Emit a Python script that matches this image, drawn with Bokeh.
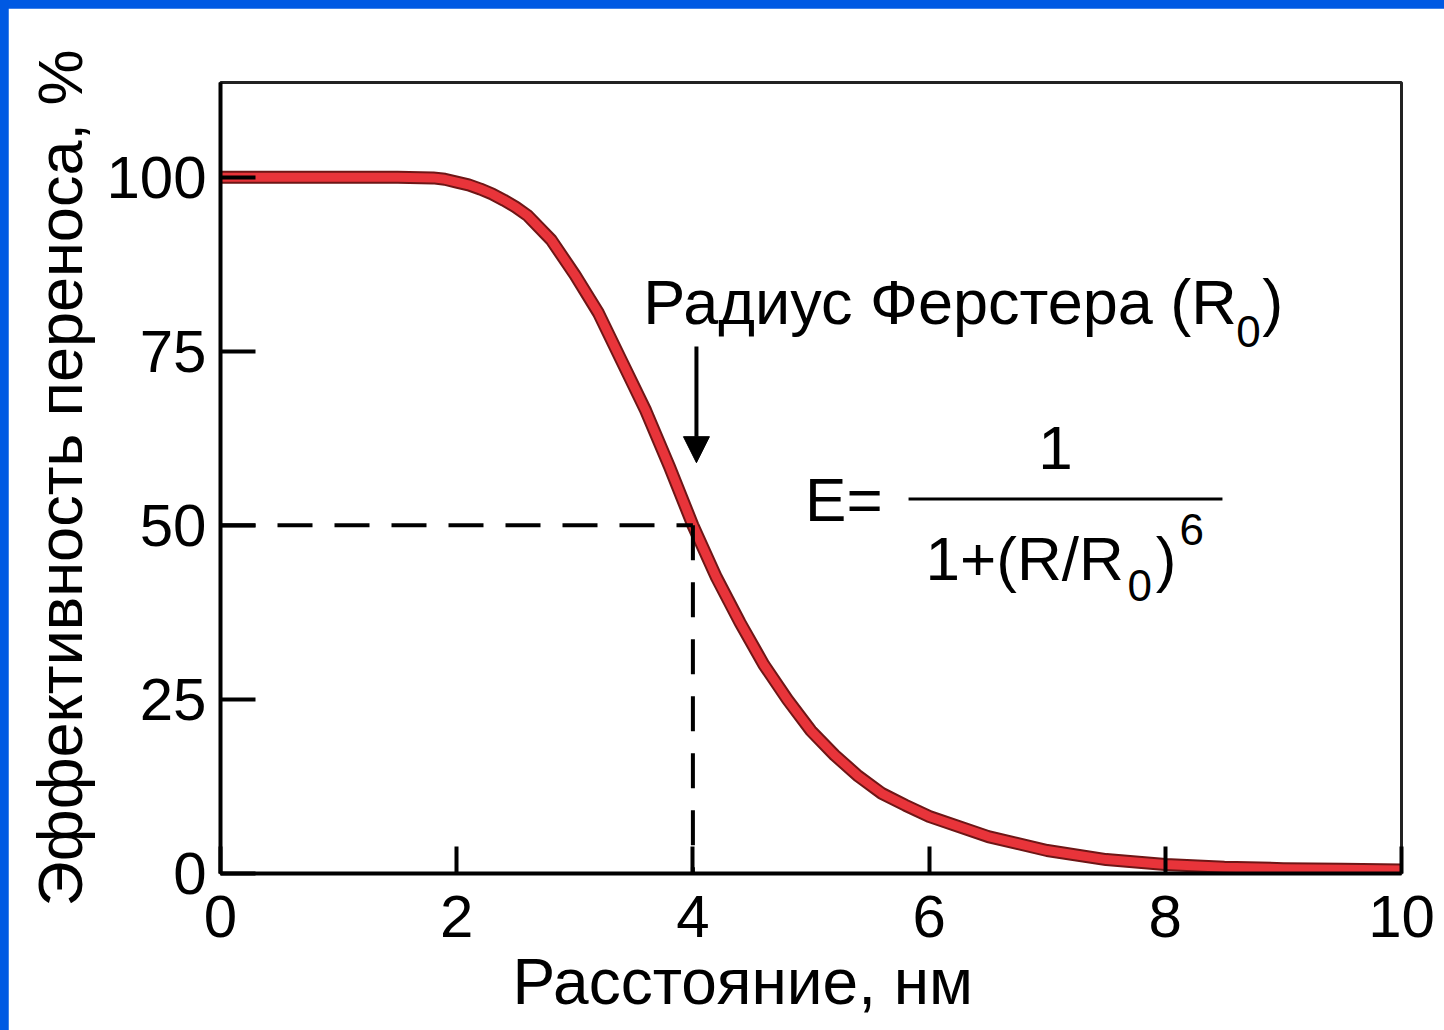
from bokeh.plotting import figure
from bokeh.layouts import column
from bokeh.models import Label, Arrow, NormalHead, FixedTicker, Title
from bokeh.embed import file_html
from bokeh.resources import INLINE

# FRET efficiency versus donor-acceptor distance
distance_nm = [0.0, 0.5, 1.0, 1.5, 1.8, 1.9, 2.0, 2.1, 2.2, 2.3, 2.4, 2.5, 2.6,
               2.8, 3.0, 3.2, 3.4, 3.6, 3.8, 4.0, 4.2, 4.4, 4.6, 4.8, 5.0, 5.2,
               5.4, 5.6, 5.8, 6.0, 6.5, 7.0, 7.5, 8.0, 8.5, 9.0, 9.5, 10.0]
efficiency_pct = [100.0, 100.0, 100.0, 100.0, 99.9, 99.7, 99.3, 98.9, 98.3, 97.6,
                  96.7, 95.7, 94.5, 91.0, 86.0, 80.5, 73.5, 66.5, 58.5, 50.0,
                  42.5, 36.0, 30.0, 25.0, 20.5, 17.0, 14.0, 11.5, 9.8, 8.2, 5.3,
                  3.3, 2.0, 1.3, 0.9, 0.7, 0.6, 0.5]

# Förster radius and the efficiency reached there
r0_nm = 4.0
e_at_r0 = 50.0

x_ticks = [0, 2, 4, 6, 8, 10]
y_ticks = [0, 25, 50, 75, 100]

x_title = "Расстояние, нм"
y_title = "Эффективность переноса, %"
r0_caption = "Радиус Ферстера (R"

FONT = "Liberation Sans"
BLUE = "#0059e3"

p = figure(width=1436, height=1022, x_range=(0, 10), y_range=(0, 113.6),
           title=None, output_backend="svg", toolbar_location=None,
           min_border_left=212, min_border_right=43,
           min_border_top=74, min_border_bottom=157)
p.background_fill_color = "white"
p.border_fill_color = "white"
p.grid.visible = False
p.outline_line_color = "#222222"
p.outline_line_width = 3

for ax, ticks, tick_len in ((p.xaxis, x_ticks, 27), (p.yaxis, y_ticks, 35)):
    ax.ticker = FixedTicker(ticks=ticks)
    ax.axis_line_width = 4
    ax.axis_line_color = "black"
    ax.major_tick_in = tick_len
    ax.major_tick_out = 0
    ax.major_tick_line_width = 4
    ax.major_tick_line_color = "black"
    ax.minor_tick_line_color = None
    ax.major_label_text_font = FONT
    ax.major_label_text_font_size = "60px"
    ax.major_label_text_color = "black"

p.xaxis.major_label_standoff = 22
p.yaxis.major_label_standoff = 14

p.yaxis.axis_label = y_title
p.yaxis.axis_label_text_font = FONT
p.yaxis.axis_label_text_font_size = "63px"
p.yaxis.axis_label_text_font_style = "normal"
p.yaxis.axis_label_text_color = "black"
p.yaxis.axis_label_standoff = 8

# x-axis title, set a little left of the frame centre
p.add_layout(Title(text=x_title, align="left", offset=292, standoff=9,
                   text_font=FONT, text_font_size="64px",
                   text_font_style="normal", text_color="black"), "below")

# efficiency curve: dark rim under a red core
p.line(distance_nm, efficiency_pct, line_color="#6e1616", line_width=13,
       line_join="round", line_cap="round")
p.line(distance_nm, efficiency_pct, line_color="#e8343a", line_width=9,
       line_join="round", line_cap="round")

# guide lines to the 50 % point at R0
p.line([0, r0_nm], [e_at_r0, e_at_r0], line_color="black", line_width=4,
       line_dash="35 22")
p.line([r0_nm, r0_nm], [e_at_r0, 0], line_color="black", line_width=4,
       line_dash="35 22")

# arrow pointing at R0
p.add_layout(Arrow(end=NormalHead(size=26, fill_color="black", line_color="black"),
                   x_start=r0_nm + 0.03, y_start=75.7,
                   x_end=r0_nm + 0.03, y_end=59.0,
                   line_color="black", line_width=4))


def txt(x, y, s, size, align="left"):
    p.add_layout(Label(x=x, y=y, text=s, text_font=FONT,
                       text_font_size=f"{size}px", text_color="black",
                       text_align=align, text_baseline="alphabetic"))


# caption for the Förster radius
txt(3.58, 82.05, r0_caption, 63)
txt(8.60, 77.8, "0", 44)
txt(8.82, 82.05, ")", 63)

# E = 1 / (1 + (R/R0)^6)
txt(4.95, 53.66, "E=", 62)
txt(7.07, 61.1, "1", 62, align="center")
p.line([5.826, 8.484], [53.8, 53.8], line_color="black", line_width=3)
txt(5.97, 45.3, "1+(R/R", 62)
txt(7.68, 41.4, "0", 44)
txt(7.92, 45.3, ")", 62)
txt(8.12, 49.4, "6", 44)

page = column(p, styles={"background-color": BLUE,
                         "padding-left": "8px", "padding-top": "8px"})

open("out.html", "w").write(file_html(page, INLINE))
